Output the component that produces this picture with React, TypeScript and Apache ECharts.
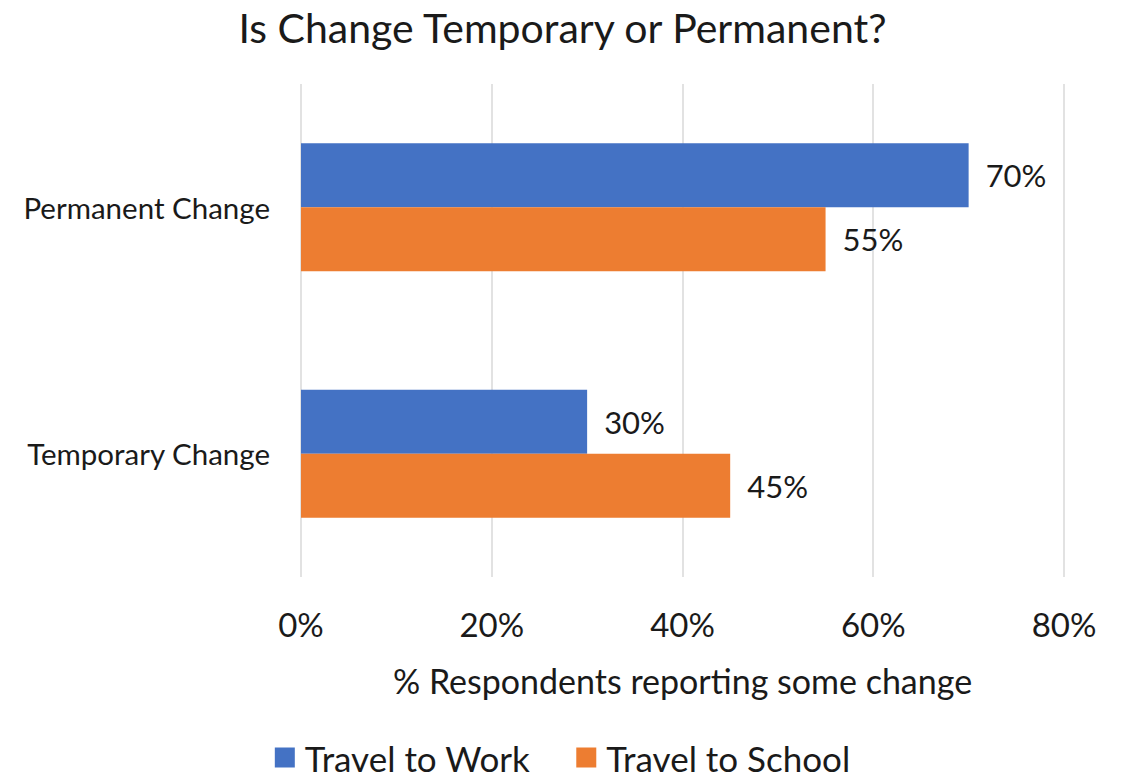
import React, { useEffect, useRef } from "react";
import * as echarts from "echarts";

const categories = ["Permanent Change", "Temporary Change"];
const travelToWork = [0.7, 0.3];
const travelToSchool = [0.55, 0.45];
const seriesNames = ["Travel to Work", "Travel to School"];
const titleText = "Is Change Temporary or Permanent?";
const xAxisName = "% Respondents reporting some change";

const FONT = "Lato, 'Open Sans', sans-serif";

export default function App() {
  const ref = useRef<HTMLDivElement>(null);
  useEffect(() => {
    if (!ref.current) return;
    const chart = echarts.init(ref.current, undefined, { renderer: "svg" });
    const pct = (v: number) => `${Math.round(v * 100)}%`;
    const labelCfg = {
      show: true,
      position: "right" as const,
      distance: 17,
      fontSize: 31,
      fontFamily: FONT,
      color: "#1a1a1a",
      formatter: (p: any) => pct(p.value),
    };
    chart.setOption({
      animation: false,
      backgroundColor: "#ffffff",
      title: {
        text: titleText,
        left: "center",
        top: 2,
        textStyle: { fontSize: 41, fontWeight: "normal", fontFamily: FONT, color: "#1a1a1a" },
      },
      grid: { left: 301, right: 61, top: 84, bottom: 201, containLabel: false },
      legend: {
        data: seriesNames,
        bottom: -2,
        left: "center",
        itemWidth: 20,
        itemHeight: 20,
        itemGap: 46,
        icon: "rect",
        textStyle: { fontSize: 35, fontFamily: FONT, color: "#1a1a1a", padding: [0, 0, 0, 5] },
      },
      xAxis: {
        type: "value",
        min: 0,
        max: 0.8,
        interval: 0.2,
        axisLine: { show: false },
        axisTick: { show: false },
        splitLine: { lineStyle: { color: "#d9d9d9", width: 1.5 } },
        axisLabel: {
          formatter: (v: number) => pct(v),
          fontSize: 33,
          fontFamily: FONT,
          color: "#1a1a1a",
          margin: 30,
        },
        name: xAxisName,
        nameLocation: "middle",
        nameGap: 86,
        nameTextStyle: { fontSize: 34, fontFamily: FONT, color: "#1a1a1a" },
      },
      yAxis: {
        type: "category",
        data: categories,
        inverse: true,
        axisLine: { show: false },
        axisTick: { show: false },
        axisLabel: { fontSize: 29.5, fontFamily: FONT, color: "#1a1a1a", margin: 31 },
      },
      series: [
        {
          name: seriesNames[0],
          type: "bar",
          data: travelToWork,
          itemStyle: { color: "#4472C4" },
          barGap: "0%",
          barCategoryGap: "48%",
          label: labelCfg,
        },
        {
          name: seriesNames[1],
          type: "bar",
          data: travelToSchool,
          itemStyle: { color: "#ED7D31" },
          barGap: "0%",
          barCategoryGap: "48%",
          label: labelCfg,
        },
      ],
    });
    return () => chart.dispose();
  }, []);
  return <div ref={ref} style={{ width: 1125, height: 778, position: "absolute", left: 0, top: 0 }} />;
}
